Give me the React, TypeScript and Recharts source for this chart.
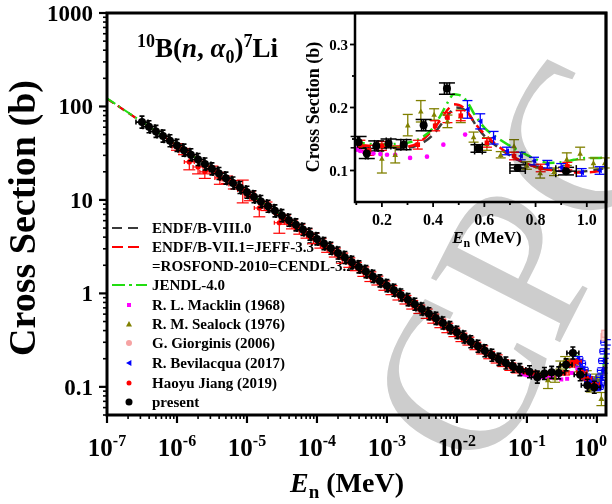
import React from "react";
import { ComposedChart, ErrorBar, Line, Scatter, XAxis, YAxis } from "recharts";

const FONT = '"Liberation Serif", "Times New Roman", serif';

// evaluated cross sections, [E (MeV), sigma (b)]
const ENDF_B8: [number, number][] = [
  [1e-7, 121], [1e-6, 38.3], [1e-5, 12.1], [1e-4, 3.83], [1e-3, 1.21], [1e-2, 0.383],
  [0.02, 0.272], [0.03, 0.224], [0.05, 0.18], [0.07, 0.158], [0.1, 0.144], [0.15, 0.138],
  [0.2, 0.137], [0.25, 0.136], [0.3, 0.136], [0.35, 0.142], [0.4, 0.157], [0.44, 0.178],
  [0.47, 0.194], [0.49, 0.2], [0.51, 0.199], [0.54, 0.189], [0.57, 0.17], [0.6, 0.155],
  [0.65, 0.138], [0.7, 0.124], [0.75, 0.113], [0.8, 0.106], [0.85, 0.102], [0.9, 0.1],
  [0.95, 0.098], [1.0, 0.099], [1.05, 0.102], [1.1, 0.108], [1.15, 0.12], [1.2, 0.14],
  [1.25, 0.17], [1.3, 0.21], [1.35, 0.26],
];
const ENDF_B71: [number, number][] = [
  [1e-7, 121], [1e-6, 38.3], [1e-5, 12.1], [1e-4, 3.83], [1e-3, 1.21], [1e-2, 0.383],
  [0.02, 0.273], [0.03, 0.225], [0.05, 0.181], [0.07, 0.158], [0.1, 0.143], [0.15, 0.139],
  [0.2, 0.139], [0.25, 0.138], [0.3, 0.138], [0.35, 0.146], [0.4, 0.165], [0.43, 0.181],
  [0.46, 0.198], [0.48, 0.205], [0.5, 0.204], [0.53, 0.195], [0.56, 0.177], [0.6, 0.158],
  [0.65, 0.14], [0.7, 0.125], [0.75, 0.114], [0.8, 0.106], [0.85, 0.101], [0.9, 0.099],
  [0.95, 0.097], [1.0, 0.097], [1.05, 0.099], [1.1, 0.104], [1.15, 0.115], [1.2, 0.135],
  [1.25, 0.165], [1.3, 0.205], [1.35, 0.255],
];
const JENDL4: [number, number][] = [
  [1e-7, 122], [1e-6, 38.5], [1e-5, 12.2], [1e-4, 3.85], [1e-3, 1.22], [1e-2, 0.386],
  [0.02, 0.275], [0.03, 0.228], [0.05, 0.184], [0.07, 0.162], [0.1, 0.147], [0.15, 0.142],
  [0.2, 0.141], [0.25, 0.142], [0.3, 0.144], [0.35, 0.151], [0.4, 0.168], [0.43, 0.188],
  [0.46, 0.21], [0.48, 0.221], [0.5, 0.22], [0.53, 0.211], [0.56, 0.19], [0.6, 0.168],
  [0.65, 0.152], [0.7, 0.139], [0.75, 0.128], [0.8, 0.118], [0.85, 0.112], [0.9, 0.113],
  [0.95, 0.117], [1.0, 0.12], [1.05, 0.12], [1.1, 0.123], [1.15, 0.132], [1.2, 0.15],
  [1.25, 0.18], [1.3, 0.22], [1.35, 0.27],
];

// measurements
const MACKLIN_1968: [number, number][] = [
  [0.085, 0.137], [0.095, 0.135], [0.102, 0.133], [0.115, 0.131], [0.13, 0.129], [0.15, 0.128],
  [0.167, 0.127], [0.194, 0.126], [0.22, 0.125], [0.252, 0.125], [0.31, 0.12], [0.376, 0.122],
  [0.44, 0.141], [0.525, 0.157],
];
// [E, sigma, dSigma]
const SEALOCK_1976: [number, number, number][] = [
  [0.2, 0.119, 0.023], [0.252, 0.125, 0.013], [0.301, 0.172, 0.017], [0.352, 0.194, 0.017],
  [0.404, 0.189, 0.009], [0.456, 0.178, 0.01], [0.508, 0.186, 0.01], [0.558, 0.153, 0.008],
  [0.61, 0.142, 0.01], [0.664, 0.125, 0.005], [0.716, 0.139, 0.01], [0.766, 0.108, 0.006],
  [0.818, 0.096, 0.008], [0.872, 0.098, 0.006], [0.922, 0.118, 0.01], [0.974, 0.127, 0.01],
  [1.026, 0.112, 0.008], [1.07, 0.112, 0.008], [1.16, 0.075, 0.012],
];
const GIORGINIS_2006: [number, number][] = [[1.29, 0.34], [1.32, 0.37]];
const BEVILACQUA_2017: [number, number, number][] = [
  [0.534, 0.197, 0.014], [0.584, 0.178, 0.012], [0.636, 0.152, 0.01], [0.688, 0.131, 0.006],
  [0.742, 0.123, 0.006], [0.794, 0.115, 0.006], [0.846, 0.11, 0.006], [0.9, 0.105, 0.006],
  [0.98, 0.097, 0.006], [1.05, 0.1, 0.006], [1.1, 0.11, 0.007], [1.15, 0.126, 0.008],
  [1.2, 0.15, 0.01], [1.25, 0.19, 0.012], [1.3, 0.24, 0.015], [1.34, 0.3, 0.02],
];
const JIANG_2019: [number, number, number][] = [
  [1.0e-6, 37.0, 3.0], [1.26e-6, 33.0, 2.5], [1.5e-6, 25.5, 4.5], [2.0e-6, 22.5, 3.5],
  [2.5e-6, 20.0, 3.0], [3.2e-6, 21.0, 2.0], [4.1e-6, 17.2, 2.5], [5.2e-6, 16.5, 1.5],
  [6.5e-6, 14.6, 1.5], [8.7e-6, 12.8, 3.5], [1.1e-5, 11.0, 1.2], [1.5e-5, 8.2, 1.6],
  [1.9e-5, 8.6, 0.9], [2.9e-5, 5.7, 1.3], [3.5e-5, 6.2, 0.7], [4.4e-5, 5.5, 0.6],
  [5.6e-5, 4.9, 0.6], [7.1e-5, 4.4, 0.5], [8.9e-5, 3.9, 0.5], [1.12e-4, 3.45, 0.4],
  [1.4e-4, 3.1, 0.35], [1.8e-4, 2.75, 0.3], [2.3e-4, 2.4, 0.3], [2.9e-4, 2.15, 0.25],
  [3.6e-4, 1.95, 0.2], [4.6e-4, 1.72, 0.2], [5.8e-4, 1.52, 0.18], [7.3e-4, 1.38, 0.15],
  [9.2e-4, 1.22, 0.14], [1.16e-3, 1.09, 0.12], [1.46e-3, 0.96, 0.11], [1.84e-3, 0.86, 0.09],
  [2.3e-3, 0.76, 0.08], [2.9e-3, 0.68, 0.07], [3.7e-3, 0.61, 0.07], [4.6e-3, 0.54, 0.06],
  [5.8e-3, 0.48, 0.05], [7.3e-3, 0.43, 0.05], [9.2e-3, 0.385, 0.04], [1.16e-2, 0.34, 0.035],
  [1.46e-2, 0.31, 0.03], [1.84e-2, 0.275, 0.025], [2.3e-2, 0.25, 0.025], [2.9e-2, 0.22, 0.02],
  [3.7e-2, 0.2, 0.02], [4.6e-2, 0.18, 0.015], [5.8e-2, 0.165, 0.015], [7.3e-2, 0.153, 0.012],
  [9.2e-2, 0.145, 0.012], [0.116, 0.14, 0.008], [0.15, 0.132, 0.008], [0.2, 0.139, 0.007],
  [0.34, 0.141, 0.007], [0.408, 0.171, 0.008], [0.456, 0.184, 0.008], [0.508, 0.187, 0.008],
  [0.61, 0.144, 0.007], [0.716, 0.123, 0.006], [0.82, 0.104, 0.006], [0.924, 0.107, 0.006],
];
// present work, thermal to 100 keV: [E, sigma]
const PRESENT_LOW: [number, number][] = [
  [3.16e-7, 68.0], [3.98e-7, 60.6], [5.01e-7, 54.1], [6.31e-7, 48.2], [7.94e-7, 43.0],
  [1.0e-6, 38.3], [1.26e-6, 34.1], [1.58e-6, 30.4], [2.0e-6, 27.1], [2.51e-6, 24.2],
  [3.16e-6, 21.5], [3.98e-6, 19.2], [5.01e-6, 17.1], [6.31e-6, 15.2], [7.94e-6, 13.6],
  [1.0e-5, 12.1], [1.26e-5, 10.8], [1.58e-5, 9.61], [2.0e-5, 8.57], [2.51e-5, 7.64],
  [3.16e-5, 6.8], [3.98e-5, 6.06], [5.01e-5, 5.41], [6.31e-5, 4.82], [7.94e-5, 4.3],
  [1.0e-4, 3.83], [1.26e-4, 3.41], [1.58e-4, 3.04], [2.0e-4, 2.71], [2.51e-4, 2.42],
  [3.16e-4, 2.15], [3.98e-4, 1.92], [5.01e-4, 1.71], [6.31e-4, 1.52], [7.94e-4, 1.36],
  [1.0e-3, 1.21], [1.26e-3, 1.08], [1.58e-3, 0.961], [2.0e-3, 0.857], [2.51e-3, 0.764],
  [3.16e-3, 0.68], [3.98e-3, 0.606], [5.01e-3, 0.541], [6.31e-3, 0.482], [7.94e-3, 0.43],
  [1.0e-2, 0.383], [1.26e-2, 0.341], [1.58e-2, 0.304], [2.0e-2, 0.272], [2.51e-2, 0.243],
  [3.16e-2, 0.218], [3.98e-2, 0.197], [5.01e-2, 0.18], [6.31e-2, 0.166], [7.94e-2, 0.153],
];
// present work, resonance region: [E, sigma, dSigma, dE]
const PRESENT_FAST: [number, number, number, number][] = [
  [0.109, 0.145, 0.009, 0.004], [0.141, 0.127, 0.008, 0.005], [0.178, 0.139, 0.008, 0.007],
  [0.226, 0.143, 0.007, 0.009], [0.285, 0.141, 0.008, 0.011], [0.363, 0.172, 0.009, 0.008],
  [0.454, 0.23, 0.009, 0.01], [0.577, 0.135, 0.006, 0.015], [0.73, 0.104, 0.005, 0.03],
  [0.919, 0.099, 0.006, 0.04],
];

const X_MAJOR = [1e-7, 1e-6, 1e-5, 1e-4, 1e-3, 1e-2, 1e-1, 1];
const Y_MAJOR = [0.01, 0.1, 1, 10, 100, 1000];
const X_DOMAIN: [number, number] = [1e-7, 1.35];
const Y_DOMAIN: [number, number] = [0.05, 1000];
const INSET_X_TICKS = [0.1, 0.2, 0.3, 0.4, 0.5, 0.6, 0.7, 0.8, 0.9, 1.0];
const INSET_X_LABELS = [0.2, 0.4, 0.6, 0.8, 1.0];
const INSET_Y_TICKS = [0.1, 0.15, 0.2, 0.25, 0.3];
const INSET_Y_LABELS = [0.1, 0.2, 0.3];
const INSET_X_DOMAIN: [number, number] = [0.095, 1.075];
const INSET_Y_DOMAIN: [number, number] = [0.05, 0.35];

const logTicks = (majors: number[], lo: number, hi: number) =>
  majors
    .flatMap((m) => [1, 2, 3, 4, 5, 6, 7, 8, 9].map((k) => m * k))
    .filter((v) => v >= lo * 0.999 && v <= hi * 1.001);
const X_TICKS = logTicks(X_MAJOR, X_DOMAIN[0], X_DOMAIN[1]);
const Y_TICKS = logTicks(Y_MAJOR, Y_DOMAIN[0], Y_DOMAIN[1]);
const isDecade = (v: number) => Math.abs(Math.log10(v) - Math.round(Math.log10(v))) < 1e-6;

const pts = (rows: number[][]) => rows.map((r) => ({ x: r[0], y: r[1], ey: r[2], ex: r[3] }));
const within = (rows: number[][], lo: number, hi: number) => rows.filter((r) => r[0] >= lo && r[0] <= hi);

const COLORS = {
  endf8: "#3a3a3a",
  endf71: "#ff0000",
  jendl: "#22dd11",
  macklin: "#ff00ff",
  sealock: "#808000",
  giorginis: "#f6a3a3",
  bevilacqua: "#0000ff",
  jiang: "#ff0000",
  present: "#000000",
};

// marker shapes
const Square = ({ cx, cy, fill, s = 2 }: any) => <rect x={cx - s} y={cy - s} width={2 * s} height={2 * s} fill={fill} />;
const TriUp = ({ cx, cy, fill, s = 3 }: any) => (
  <polygon points={`${cx},${cy - s} ${cx + s},${cy + s * 0.8} ${cx - s},${cy + s * 0.8}`} fill={fill} />
);
const TriLeft = ({ cx, cy, fill, s = 3 }: any) => (
  <polygon points={`${cx - s},${cy} ${cx + s * 0.8},${cy - s} ${cx + s * 0.8},${cy + s}`} fill={fill} />
);
const Diamond = ({ cx, cy, s = 3.5 }: any) => (
  <rect x={cx - s} y={cy - s} width={2 * s} height={2 * s} fill="#fbd6d6" stroke={COLORS.giorginis} strokeWidth={1.2} />
);
const Dot = ({ cx, cy, fill, r = 2.5 }: any) => <circle cx={cx} cy={cy} r={r} fill={fill} />;
const HBar = ({ cx, cy, stroke, w = 5, sw = 1.2 }: any) => (
  <path d={`M${cx - w},${cy}H${cx + w}M${cx - w},${cy - 2}v4M${cx + w},${cy - 2}v4`} stroke={stroke} strokeWidth={sw} fill="none" />
);
const PresentMain = ({ cx, cy }: any) => (
  <g>
    <path
      d={`M${cx - 6},${cy}H${cx + 6}M${cx},${cy - 6}V${cy + 6}M${cx - 6},${cy - 2.5}v5M${cx + 6},${cy - 2.5}v5M${cx - 2.5},${cy - 6}h5M${cx - 2.5},${cy + 6}h5`}
      stroke="#000"
      strokeWidth={1.6}
    />
    <circle cx={cx} cy={cy} r={4} fill="#000" />
  </g>
);

function MainXTick({ x, y, payload }: any) {
  const v = payload.value;
  const major = isDecade(v);
  const last = Math.abs(v - 1) < 1e-9;
  return (
    <g>
      <line x1={x} x2={x} y1={y} y2={y + (major ? 8 : 4)} stroke="#000" strokeWidth={major ? 2.2 : 1.6} />
      {major && (
        <text
          x={last ? 607 : x}
          y={y + 41}
          textAnchor={last ? "end" : "middle"}
          fontFamily={FONT}
          fontWeight="bold"
          fontSize={25}
          fill="#000"
        >
          10
          <tspan dy={-10} fontSize={16}>
            {Math.round(Math.log10(v))}
          </tspan>
        </text>
      )}
    </g>
  );
}

function MainYTick({ x, y, payload }: any) {
  const v = payload.value;
  const major = isDecade(v);
  return (
    <g>
      <line x1={x} x2={x - (major ? 8 : 4)} y1={y} y2={y} stroke="#000" strokeWidth={major ? 2.2 : 1.6} />
      {major && (
        <text x={x - 14} y={y + 8} textAnchor="end" fontFamily={FONT} fontWeight="bold" fontSize={23} fill="#000">
          {String(v)}
        </text>
      )}
    </g>
  );
}

function InsetXTick({ x, y, payload }: any) {
  const v = payload.value;
  const major = INSET_X_LABELS.includes(v);
  return (
    <g>
      <line x1={x} x2={x} y1={y} y2={y + (major ? 5 : 3)} stroke="#000" strokeWidth={1.8} />
      {major && (
        <text x={x} y={y + 23} textAnchor="middle" fontFamily={FONT} fontWeight="bold" fontSize={16} fill="#000">
          {v.toFixed(1)}
        </text>
      )}
    </g>
  );
}

function InsetYTick({ x, y, payload }: any) {
  const v = payload.value;
  const major = INSET_Y_LABELS.includes(v);
  return (
    <g>
      <line x1={x} x2={x - (major ? 5 : 3)} y1={y} y2={y} stroke="#000" strokeWidth={1.8} />
      {major && (
        <text x={x - 7} y={y + 5} textAnchor="end" fontFamily={FONT} fontWeight="bold" fontSize={15} fill="#000">
          {v.toFixed(1)}
        </text>
      )}
    </g>
  );
}

const LEGEND_ROWS: { label: string; y: number; kind: string }[] = [
  { label: "ENDF/B-VIII.0", y: 228, kind: "endf8" },
  { label: "ENDF/B-VII.1=JEFF-3.3", y: 247, kind: "endf71" },
  { label: "=ROSFOND-2010=CENDL-3.2", y: 266, kind: "none" },
  { label: "JENDL-4.0", y: 285, kind: "jendl" },
  { label: "R. L. Macklin (1968)", y: 305, kind: "macklin" },
  { label: "R. M. Sealock (1976)", y: 324, kind: "sealock" },
  { label: "G. Giorginis (2006)", y: 343, kind: "giorginis" },
  { label: "R. Bevilacqua (2017)", y: 363, kind: "bevilacqua" },
  { label: "Haoyu Jiang (2019)", y: 383, kind: "jiang" },
  { label: "present", y: 402, kind: "present" },
];

function LegendSymbol({ kind, y }: { kind: string; y: number }) {
  const cx = 129;
  switch (kind) {
    case "endf8":
      return <line x1={112} x2={142} y1={y} y2={y} stroke={COLORS.endf8} strokeWidth={2} strokeDasharray="10 6" />;
    case "endf71":
      return <line x1={112} x2={142} y1={y} y2={y} stroke={COLORS.endf71} strokeWidth={2} strokeDasharray="11 5" />;
    case "jendl":
      return <line x1={112} x2={147} y1={y} y2={y} stroke={COLORS.jendl} strokeWidth={2} strokeDasharray="13 4 3 4" />;
    case "macklin":
      return <Square cx={cx} cy={y} fill={COLORS.macklin} s={2} />;
    case "sealock":
      return <TriUp cx={cx} cy={y} fill={COLORS.sealock} s={3} />;
    case "giorginis":
      return <circle cx={cx} cy={y} r={3} fill={COLORS.giorginis} />;
    case "bevilacqua":
      return <TriLeft cx={cx} cy={y} fill={COLORS.bevilacqua} s={3} />;
    case "jiang":
      return <Dot cx={cx} cy={y} fill={COLORS.jiang} r={2.5} />;
    case "present":
      return <Dot cx={cx} cy={y} fill="#000" r={3.5} />;
    default:
      return null;
  }
}

export default function App() {
  const insetLine = (rows: number[][]) => pts(within(rows, 0.05, 1.15));
  return (
    <div style={{ position: "relative", width: 612, height: 504, background: "#fff", overflow: "hidden" }}>
      <style>{"body{margin:0}"}</style>

      {/* title, axis titles and legend sit under the data */}
      <svg width={612} height={504} style={{ position: "absolute", left: 0, top: 0 }}>
        <text x={137} y={57} fontFamily={FONT} fontWeight="bold" fontSize={27} fill="#000">
          <tspan fontSize={18} dy={-10}>10</tspan>
          <tspan dy={10}>B(</tspan>
          <tspan fontStyle="italic">n</tspan>
          {", "}
          <tspan fontStyle="italic">α</tspan>
          <tspan fontSize={18} dy={6}>0</tspan>
          <tspan dy={-6}>)</tspan>
          <tspan fontSize={18} dy={-10}>7</tspan>
          <tspan dy={10}>Li</tspan>
        </text>
        <text
          transform="rotate(-90)"
          x={-218}
          y={35}
          textAnchor="middle"
          fontFamily={FONT}
          fontWeight="bold"
          fontSize={38}
          fill="#000"
        >
          Cross Section (b)
        </text>
        <text x={347} y={492} textAnchor="middle" fontFamily={FONT} fontWeight="bold" fontSize={28} fill="#000">
          <tspan fontStyle="italic">E</tspan>
          <tspan fontSize={19} dy={6}>n</tspan>
          <tspan dy={-6}>{" (MeV)"}</tspan>
        </text>
        {LEGEND_ROWS.map((r) => (
          <g key={r.label}>
            <LegendSymbol kind={r.kind} y={r.y} />
            <text x={152} y={r.y + 5} fontFamily={FONT} fontWeight="bold" fontSize={15} fill="#000">
              {r.label}
            </text>
          </g>
        ))}
      </svg>

      <div style={{ position: "absolute", left: 0, top: 0 }}>
        <ComposedChart width={612} height={504} margin={{ top: 13, right: 6, bottom: 0, left: 0 }}>
          <XAxis
            type="number"
            dataKey="x"
            scale="log"
            domain={X_DOMAIN}
            allowDataOverflow
            ticks={X_TICKS}
            interval={0}
            tick={<MainXTick />}
            tickLine={false}
            axisLine={false}
            tickSize={0}
            tickMargin={0}
            height={89}
          />
          <YAxis
            type="number"
            dataKey="y"
            scale="log"
            domain={Y_DOMAIN}
            allowDataOverflow
            ticks={Y_TICKS}
            interval={0}
            tick={<MainYTick />}
            tickLine={false}
            axisLine={false}
            tickSize={0}
            tickMargin={0}
            width={107}
          />
          <Line data={pts(ENDF_B8)} dataKey="y" type="linear" stroke={COLORS.endf8} strokeWidth={2} strokeDasharray="8 5" dot={false} isAnimationActive={false} />
          <Line data={pts(ENDF_B71)} dataKey="y" type="linear" stroke={COLORS.endf71} strokeWidth={2} strokeDasharray="8 5" dot={false} isAnimationActive={false} />
          <Line data={pts(JENDL4)} dataKey="y" type="linear" stroke={COLORS.jendl} strokeWidth={2} strokeDasharray="10 4 2 4" dot={false} isAnimationActive={false} />
          <Scatter data={pts(MACKLIN_1968)} shape={(p: any) => <Square {...p} fill={COLORS.macklin} s={2} />} isAnimationActive={false} />
          <Scatter data={pts(SEALOCK_1976)} shape={(p: any) => <TriUp {...p} fill={COLORS.sealock} s={3} />} isAnimationActive={false}>
            <ErrorBar dataKey="ey" direction="y" width={5} stroke={COLORS.sealock} strokeWidth={1.2} />
          </Scatter>
          <Scatter data={pts(GIORGINIS_2006)} shape={(p: any) => <Diamond {...p} />} isAnimationActive={false} />
          <Scatter
            data={pts(BEVILACQUA_2017)}
            shape={(p: any) => (
              <g>
                <HBar {...p} stroke={COLORS.bevilacqua} w={5} />
                <TriLeft {...p} fill={COLORS.bevilacqua} s={3} />
              </g>
            )}
            isAnimationActive={false}
          >
            <ErrorBar dataKey="ey" direction="y" width={5} stroke={COLORS.bevilacqua} strokeWidth={1.2} />
          </Scatter>
          <Scatter
            data={pts(JIANG_2019)}
            shape={(p: any) => (
              <g>
                <HBar {...p} stroke={COLORS.jiang} w={5} />
                <Dot {...p} fill={COLORS.jiang} r={2.6} />
              </g>
            )}
            isAnimationActive={false}
          >
            <ErrorBar dataKey="ey" direction="y" width={6} stroke={COLORS.jiang} strokeWidth={1.2} />
          </Scatter>
          <Scatter data={pts([...PRESENT_LOW, ...PRESENT_FAST])} shape={(p: any) => <PresentMain {...p} />} isAnimationActive={false} />
        </ComposedChart>
      </div>

      {/* inset: white plot background */}
      <div style={{ position: "absolute", left: 355, top: 13, width: 251, height: 189, background: "#fff" }} />
      <svg width={612} height={504} style={{ position: "absolute", left: 0, top: 0 }}>
        <text
          transform="rotate(-90)"
          x={-107}
          y={319}
          textAnchor="middle"
          fontFamily={FONT}
          fontWeight="bold"
          fontSize={18}
          fill="#000"
        >
          Cross Section (b)
        </text>
        <text x={487} y={243} textAnchor="middle" fontFamily={FONT} fontWeight="bold" fontSize={17} fill="#000">
          <tspan fontStyle="italic">E</tspan>
          <tspan fontSize={12} dy={4}>n</tspan>
          <tspan dy={-4}>{" (MeV)"}</tspan>
        </text>
      </svg>
      <div style={{ position: "absolute", left: 320, top: 0 }}>
        <ComposedChart width={292} height={250} margin={{ top: 13, right: 6, bottom: 0, left: 0 }}>
          <XAxis
            type="number"
            dataKey="x"
            domain={INSET_X_DOMAIN}
            allowDataOverflow
            ticks={INSET_X_TICKS}
            interval={0}
            tick={<InsetXTick />}
            tickLine={false}
            axisLine={false}
            tickSize={0}
            tickMargin={0}
            height={48}
          />
          <YAxis
            type="number"
            dataKey="y"
            domain={INSET_Y_DOMAIN}
            allowDataOverflow
            ticks={INSET_Y_TICKS}
            interval={0}
            tick={<InsetYTick />}
            tickLine={false}
            axisLine={false}
            tickSize={0}
            tickMargin={0}
            width={35}
          />
          <Line data={insetLine(ENDF_B8)} dataKey="y" type="monotone" stroke={COLORS.endf8} strokeWidth={2.5} strokeDasharray="10 6" dot={false} isAnimationActive={false} />
          <Line data={insetLine(ENDF_B71)} dataKey="y" type="monotone" stroke={COLORS.endf71} strokeWidth={2.5} strokeDasharray="10 6" dot={false} isAnimationActive={false} />
          <Line data={insetLine(JENDL4)} dataKey="y" type="monotone" stroke={COLORS.jendl} strokeWidth={2.5} strokeDasharray="12 5 2 5" dot={false} isAnimationActive={false} />
          <Scatter data={pts(within(MACKLIN_1968, 0.095, 1.075))} shape={(p: any) => <Dot {...p} fill={COLORS.macklin} r={2.3} />} isAnimationActive={false} />
          <Scatter data={pts(within(SEALOCK_1976, 0.095, 1.075))} shape={(p: any) => <TriUp {...p} fill={COLORS.sealock} s={2.8} />} isAnimationActive={false}>
            <ErrorBar dataKey="ey" direction="y" width={5} stroke={COLORS.sealock} strokeWidth={1.3} />
          </Scatter>
          <Scatter data={pts(within(BEVILACQUA_2017, 0.095, 1.075))} shape={(p: any) => <TriLeft {...p} fill={COLORS.bevilacqua} s={2.8} />} isAnimationActive={false}>
            <ErrorBar dataKey="ey" direction="y" width={5} stroke={COLORS.bevilacqua} strokeWidth={1.3} />
          </Scatter>
          <Scatter data={pts(within(JIANG_2019, 0.095, 1.075))} shape={(p: any) => <Square {...p} fill={COLORS.jiang} s={2.3} />} isAnimationActive={false}>
            <ErrorBar dataKey="ey" direction="y" width={5} stroke={COLORS.jiang} strokeWidth={1.3} />
          </Scatter>
          <Scatter data={pts(PRESENT_FAST)} shape={(p: any) => <Dot {...p} fill="#000" r={4} />} isAnimationActive={false}>
            <ErrorBar dataKey="ey" direction="y" width={8} stroke="#000" strokeWidth={1.5} />
            <ErrorBar dataKey="ex" direction="x" width={6} stroke="#000" strokeWidth={1.5} />
          </Scatter>
        </ComposedChart>
      </div>

      {/* frames */}
      <svg width={612} height={504} style={{ position: "absolute", left: 0, top: 0 }}>
        <rect x={107} y={13} width={499} height={402} fill="none" stroke="#000" strokeWidth={3} />
        <rect x={355} y={13} width={251} height={189} fill="none" stroke="#000" strokeWidth={2.5} />
      </svg>

      {/* journal watermark */}
      <svg width={612} height={504} style={{ position: "absolute", left: 0, top: 0, mixBlendMode: "multiply" }}>
        <text
          x={490}
          y={480}
          transform="rotate(-63 490 480)"
          fontFamily={FONT}
          fontSize={220}
          fill="#cdcdcd"
        >
          CPC A
        </text>
      </svg>
    </div>
  );
}
